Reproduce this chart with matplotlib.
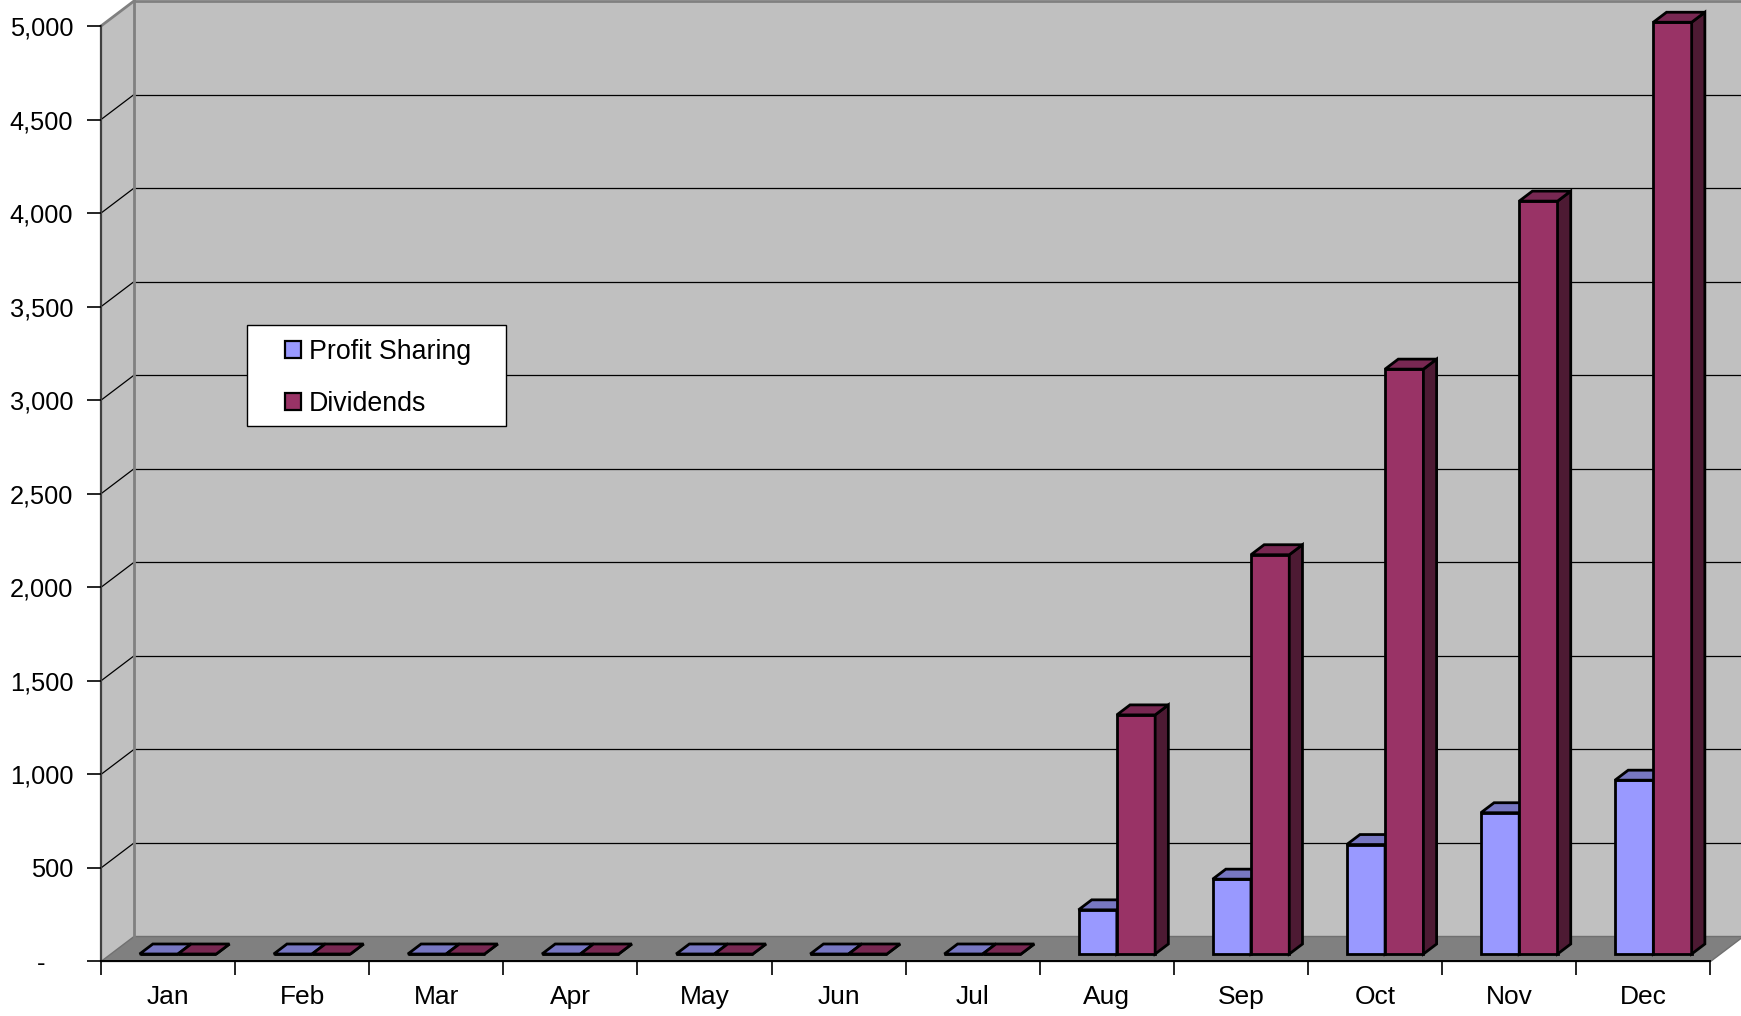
import matplotlib
matplotlib.use("Agg")
import matplotlib.pyplot as plt
from matplotlib.patches import Polygon, Rectangle
from matplotlib.ticker import FuncFormatter, FixedLocator

# ---- data -------------------------------------------------------------
months = ["Jan", "Feb", "Mar", "Apr", "May", "Jun",
          "Jul", "Aug", "Sep", "Oct", "Nov", "Dec"]
profit_sharing = [0, 0, 0, 0, 0, 0, 0, 236, 400, 585, 755, 929]
dividends = [0, 0, 0, 0, 0, 0, 0, 1278, 2134, 3126, 4024, 4980]
series_names = ["Profit Sharing", "Dividends"]
y_ticks = [0, 500, 1000, 1500, 2000, 2500, 3000, 3500, 4000, 4500, 5000]

# ---- style ------------------------------------------------------------
plt.rcParams['font.family'] = ['Liberation Sans', 'DejaVu Sans']
FS_Y, FS_X, FS_LEG = 18.3, 19, 19.3
WALL = "#C0C0C0"
FLOOR = "#808080"
FACE = {"front": ["#9999FF", "#993366"],
        "top": ["#7777C2", "#782852"],
        "side": ["#4D4D80", "#4D1A33"]}

fig = plt.figure(figsize=(17.41, 10.16), dpi=100)
ax = fig.add_axes([0, 0, 1, 1])
ax.set_facecolor("white")
ax.set_xlim(-0.7530, 12.2274)
ax.set_ylim(-291.3, 5139.0)

n = len(months)
ymax = y_ticks[-1]
DX, DY = 0.246, 133.6          # oblique depth vector (category units, value units)
GAP = 1.5                      # gap width relative to one bar
W = 1.0 / (2 + GAP)            # bar width in category units
F0, DEPTH = 0.3, 0.4           # bar front position and thickness as fractions of depth

# ---- walls and floor --------------------------------------------------
ax.add_patch(Polygon([(DX, DY), (n + DX, DY), (n + DX, ymax + DY), (DX, ymax + DY)],
                     closed=True, fc=WALL, ec="none", zorder=0.5))
ax.add_patch(Polygon([(0, 0), (DX, DY), (DX, ymax + DY), (0, ymax)],
                     closed=True, fc=WALL, ec="none", zorder=0.5))
ax.add_patch(Polygon([(0, 0), (n, 0), (n + DX, DY), (DX, DY)],
                     closed=True, fc=FLOOR, ec="#707070", lw=1, zorder=0.6))

# gridlines on back and side wall
for v in y_ticks[1:-1]:
    ax.plot([DX, n + DX], [v + DY, v + DY], color="black", lw=0.9, zorder=0.7)
    ax.plot([0, DX], [v, v + DY], color="black", lw=0.9, zorder=0.7)
# wall borders
ax.plot([DX, n + DX], [ymax + DY, ymax + DY], color="#808080", lw=2, zorder=0.8)
ax.plot([0, DX], [ymax, ymax + DY], color="#808080", lw=2, zorder=0.8)
ax.plot([DX, DX], [DY, ymax + DY], color="#808080", lw=2, zorder=0.8)

# ---- 3-D bars ---------------------------------------------------------
def draw_bar(x0, v, s):
    y0 = F0 * DY
    x0 = x0 + F0 * DX
    dx, dy = DEPTH * DX, DEPTH * DY
    kw = dict(closed=True, ec="black", lw=2, joinstyle="miter", zorder=2)
    ax.add_patch(Polygon([(x0, y0), (x0 + W, y0), (x0 + W, y0 + v), (x0, y0 + v)],
                         fc=FACE["front"][s], **kw))
    ax.add_patch(Polygon([(x0 + W, y0), (x0 + W + dx, y0 + dy),
                          (x0 + W + dx, y0 + v + dy), (x0 + W, y0 + v)],
                         fc=FACE["side"][s], **kw))
    ax.add_patch(Polygon([(x0, y0 + v), (x0 + W, y0 + v),
                          (x0 + W + dx, y0 + v + dy), (x0 + dx, y0 + v + dy)],
                         fc=FACE["top"][s], **kw))

left_pad = (1 - 2 * W) / 2
for i in range(n):
    for s, vals in enumerate([profit_sharing, dividends]):
        draw_bar(i + left_pad + s * W, vals[i], s)

# ---- axes -------------------------------------------------------------
for side in ("top", "right"):
    ax.spines[side].set_visible(False)
ax.spines["left"].set_position(("data", 0))
ax.spines["left"].set_bounds(0, ymax)
ax.spines["left"].set_color("#404040")
ax.spines["left"].set_linewidth(1.6)
ax.spines["left"].set_zorder(1)
ax.spines["bottom"].set_position(("data", 0))
ax.spines["bottom"].set_bounds(0, n)
ax.spines["bottom"].set_color("black")
ax.spines["bottom"].set_linewidth(1.4)
ax.spines["bottom"].set_zorder(1)

ax.yaxis.set_major_locator(FixedLocator(y_ticks))
ax.yaxis.set_major_formatter(FuncFormatter(
    lambda v, p: "-    " if v == 0 else f"{int(v):,}"))
ax.tick_params(axis="y", direction="out", length=10, width=1.2, pad=10,
               labelsize=FS_Y, colors="black")

ax.xaxis.set_major_locator(FixedLocator(list(range(n + 1))))
ax.xaxis.set_major_formatter(FuncFormatter(lambda v, p: ""))
ax.xaxis.set_minor_locator(FixedLocator([i + 0.5 for i in range(n)]))
ax.set_xticklabels(months, minor=True)
ax.tick_params(axis="x", which="major", direction="out", length=10, width=1.2)
ax.tick_params(axis="x", which="minor", length=0, pad=17, labelsize=FS_X)

# ---- legend -----------------------------------------------------------
handles = [Rectangle((0, 0), 1, 1, fc=FACE["front"][k], ec="black", lw=1.6)
           for k in range(2)]
ax.add_patch(Rectangle((247 / 1741, 1 - 426 / 1016), 259 / 1741, 101 / 1016,
                       transform=fig.transFigure, fc="white", ec="black",
                       lw=1, zorder=4, clip_on=False))
ax.legend(handles, series_names, loc="upper left",
          bbox_to_anchor=(285 / 1741, 1 - 339 / 1016), bbox_transform=fig.transFigure,
          frameon=False, fontsize=FS_LEG, handlelength=0.6, handleheight=0.6,
          handletextpad=0.28, labelspacing=0.98, borderpad=0, borderaxespad=0)

fig.savefig("out.png", dpi=100)
